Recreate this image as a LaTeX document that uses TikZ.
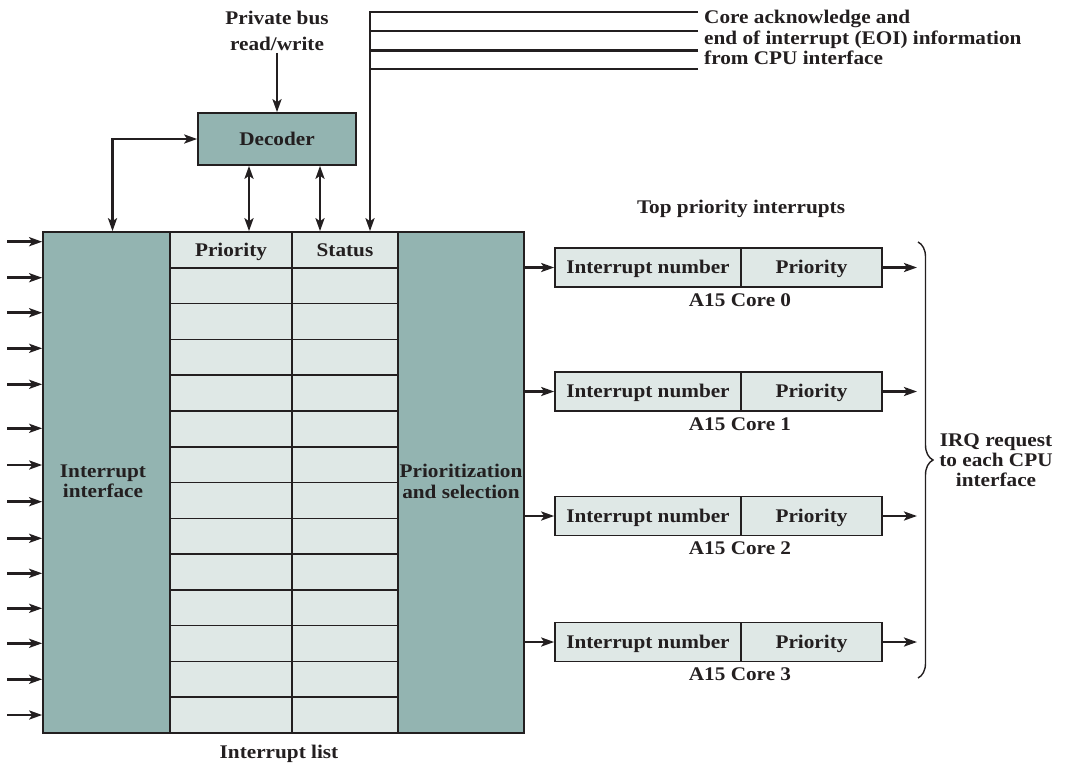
\documentclass[tikz,border=0pt]{standalone}
\usepackage{fontspec}
\setmainfont{Liberation Serif}[FakeStretch=1.1]
\usetikzlibrary{arrows.meta,decorations.pathreplacing}
\definecolor{dk}{RGB}{147,180,177}
\definecolor{lt}{RGB}{223,232,230}
\definecolor{ink}{RGB}{35,31,32}
\begin{document}
\begin{tikzpicture}[x=1pt,y=-1pt,
  every node/.style={font=\fontsize{19.3}{20.5}\selectfont\bfseries, text=ink, inner sep=0pt},
  one/.style={text height=12.7pt, text depth=0pt},
  blk/.style={draw=ink, line width=1.6pt, fill=dk},
  cell/.style={draw=ink, line width=1.6pt, fill=lt},
  arr/.style={draw=ink, line width=2.6pt, -{Stealth[length=13pt,width=9pt,inset=3pt]}},
  darr/.style={draw=ink, line width=2.6pt, {Stealth[length=13pt,width=9pt,inset=3pt]}-{Stealth[length=13pt,width=9pt,inset=3pt]}},
  wire/.style={draw=ink, line width=2.6pt},
]
\useasboundingbox (0,0) rectangle (1067,764);

% main blocks
\node[blk, minimum width=127pt, minimum height=501pt] (iface) at (106.5,482.5) {};
\node[blk, minimum width=126pt, minimum height=501pt] (prio) at (461,482.5) {};
\node[align=center] at (103,481.5) {Interrupt\\interface};
\node[align=center] at (461,481.5) {Prioritization\\and selection};

% interrupt list table
\node[cell, one, minimum width=122pt, minimum height=35.786pt] (p0) at (231,249.9) {Priority};
\node[cell, one, minimum width=106pt, minimum height=35.786pt] (s0) at (345,249.9) {Status};
\foreach \r in {1,...,13} {
  \pgfmathsetmacro\cy{232+35.786*\r+17.893}
  \node[cell, minimum width=122pt, minimum height=35.786pt] (p\r) at (231,\cy) {};
  \node[cell, minimum width=106pt, minimum height=35.786pt] (s\r) at (345,\cy) {};
}
\node[one] (ilist) at (279,752.5) {Interrupt list};

% interrupt inputs
\foreach \y [count=\i] in {241.7,277.7,312.7,348.3,384.3,428.3,465,501.7,538.3,573.3,608.3,643.3,679.3,715} {
  \coordinate (in\i) at (7,\y);
  \draw[arr] (in\i) -- (in\i -| iface.west);
}

% decoder
\node[blk, one, minimum width=158pt, minimum height=52pt] (dec) at (277,139) {Decoder};
\node[align=center, font=\fontsize{19.3}{26}\selectfont\bfseries] (pb) at (277,31) {Private bus\\read/write};
\draw[arr] (pb.south) ++(0,2) -- (dec.north);
\coordinate (lx) at (112.5,0);
\draw[darr] (dec.west) -| (iface.north -| lx);
\coordinate (d1) at (249,0);
\coordinate (d2) at (320,0);
\draw[darr] (dec.south -| d1) -- (p0.north -| d1);
\draw[darr] (dec.south -| d2) -- (s0.north -| d2);

% core acknowledge lines
\coordinate (vx) at (370,0);
\coordinate (h1) at (698,12);
\coordinate (h2) at (698,31);
\coordinate (h3) at (698,50.5);
\coordinate (h4) at (698,69);
\draw[arr] (h1) -| (s0.north -| vx);
\draw[wire] (h2) -- (h2 -| vx);
\draw[wire] (h3) -- (h3 -| vx);
\draw[wire] (h4) -- (h4 -| vx);
\node[align=left, anchor=west] (ack) at (704,37.4) {Core acknowledge and\\end of interrupt (EOI) information\\from CPU interface};

% top priority interrupts
\node[one] (tpi) at (741,207.5) {Top priority interrupts};
\coordinate (ox) at (917,0);
\foreach \k/\y in {0/267.5,1/391.5,2/516,3/642} {
  \node[cell, one, minimum width=186pt, minimum height=39pt] (n\k) at (648,\y) {Interrupt number};
  \node[cell, one, minimum width=141pt, minimum height=39pt] (q\k) at (811.5,\y) {Priority};
  \node[one] (c\k) at (740,{\y+32.5}) {A15 Core \k};
  \draw[arr] (prio.east |- n\k.west) -- (n\k.west);
  \draw[arr] (q\k.east) -- (q\k.east -| ox);
}

% brace and IRQ label
\coordinate (br1) at (918,242);
\coordinate (br2) at (918,678);
\draw[draw=ink, line width=1.4pt, decorate, decoration={brace, amplitude=15pt}] (br1) -- (br2);
\node[align=center, font=\fontsize{19.3}{20}\selectfont\bfseries] (irq) at (996,460) {IRQ request\\to each CPU\\interface};
\end{tikzpicture}
\end{document}
